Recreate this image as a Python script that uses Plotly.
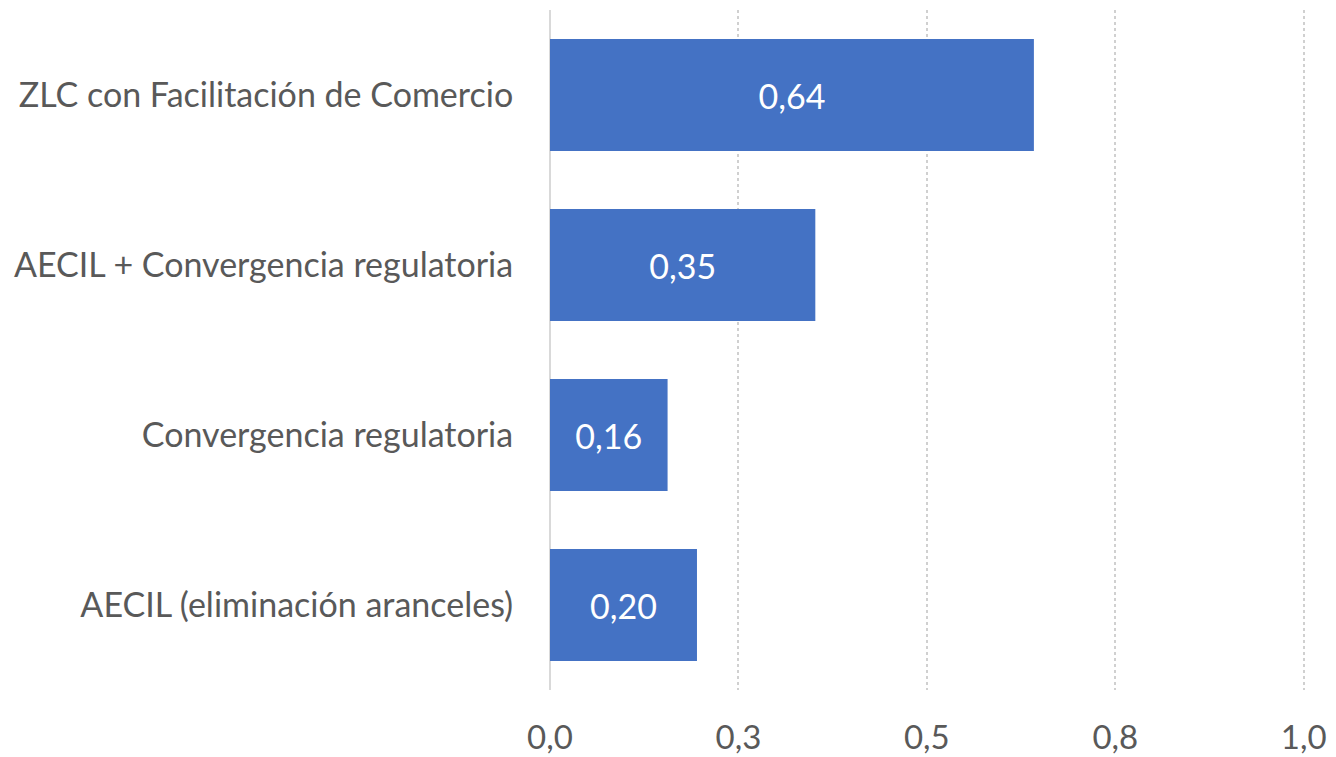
import plotly.graph_objects as go

# datos (de abajo hacia arriba, como en el gráfico original)
categorias = [
    "AECIL (eliminación aranceles)",
    "Convergencia regulatoria",
    "AECIL + Convergencia regulatoria",
    "ZLC con Facilitación de Comercio",
]
valores = [0.195, 0.156, 0.352, 0.642]
etiquetas = ["0,20", "0,16", "0,35", "0,64"]

ticks_x = [0, 0.25, 0.5, 0.75, 1.0]
ticks_x_texto = ["0,0", "0,3", "0,5", "0,8", "1,0"]

gris = "#595959"
fuente = "Lato"

fig = go.Figure(go.Bar(
    x=valores,
    y=categorias,
    orientation="h",
    text=etiquetas,
    textposition="inside",
    insidetextanchor="middle",
    textfont=dict(color="white", size=34, family=fuente),
    marker=dict(color="#4472C4", line=dict(width=0)),
    hoverinfo="x+y",
))

# la página tiene 8 px de margen en el body, se compensa aquí
fig.update_layout(
    width=1336,
    height=757,
    margin=dict(l=542, r=38, t=2, b=75),
    plot_bgcolor="white",
    paper_bgcolor="white",
    bargap=0.34,
    showlegend=False,
    font=dict(family=fuente, color=gris, size=34),
)

fig.update_xaxes(
    range=[0, 1.003],
    tickvals=ticks_x,
    ticktext=ticks_x_texto,
    showgrid=True,
    gridcolor="#D0D0D0",
    griddash="dot",
    gridwidth=1.5,
    zeroline=True,
    zerolinecolor="#D9D9D9",
    zerolinewidth=2,
    ticks="outside",
    ticklen=18,
    tickcolor="rgba(0,0,0,0)",
    tickfont=dict(size=33, color=gris),
    automargin=False,
    fixedrange=True,
)

fig.update_yaxes(
    showgrid=False,
    ticks="outside",
    ticklen=29,
    tickcolor="rgba(0,0,0,0)",
    tickfont=dict(size=34, color=gris),
    automargin=False,
    fixedrange=True,
)

fig.write_html("out.html", config={"displayModeBar": False})
